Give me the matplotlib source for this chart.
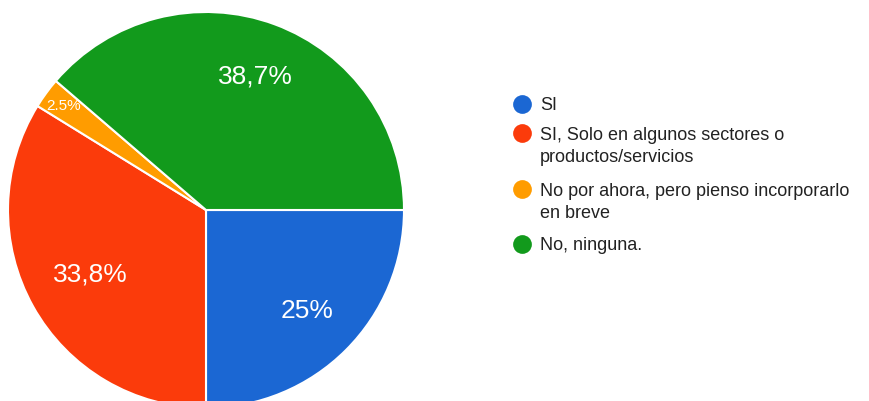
import matplotlib
matplotlib.use("Agg")
import matplotlib.pyplot as plt
import numpy as np

categories = ["SI", "SI, Solo en algunos sectores o\nproductos/servicios",
              "No por ahora, pero pienso incorporarlo\nen breve", "No, ninguna."]
values = [25.0, 33.8, 2.5, 38.7]
pct_labels = ["25%", "33,8%", "2.5%", "38,7%"]
colors = ["#1b67d3", "#fb3b0b", "#ff9c00", "#129a1c"]

plt.rcParams['font.family'] = ['Liberation Sans', 'DejaVu Sans']

W, H = 869, 401
fig = plt.figure(figsize=(W / 100, H / 100), dpi=100)
cx, cy, r = 206, 210, 198
ax = fig.add_axes([(cx - r) / W, (H - cy - r) / H, 2 * r / W, 2 * r / H])
wedges, _ = ax.pie(values, colors=colors, startangle=0, counterclock=False,
                   wedgeprops=dict(edgecolor="white", linewidth=1.5), radius=1)
ax.set_xlim(-1, 1)
ax.set_ylim(-1, 1)
ax.set_aspect("equal")

dists = [0.72, 0.67, 0.89, 0.72]
sizes = [19, 19, 11, 19]
for w, lab, d, s in zip(wedges, pct_labels, dists, sizes):
    ang = np.deg2rad((w.theta1 + w.theta2) / 2)
    ax.text(d * np.cos(ang), d * np.sin(ang), lab, ha="center", va="center",
            color="white", fontsize=s)

# legend
lax = fig.add_axes([0, 0, 1, 1])
lax.set_xlim(0, W)
lax.set_ylim(H, 0)
lax.axis("off")
row_y = [104, 133, 189, 244]
line_h = 23
for y, lab, c in zip(row_y, categories, colors):
    lax.plot(522, y, "o", color=c, markersize=13.5, markeredgewidth=0)
    for i, line in enumerate(lab.split("\n")):
        lax.text(540, y + i * line_h, line, ha="left", va="center_baseline",
                 fontsize=13.0, color="#222222")

fig.savefig("out.png", dpi=100)
